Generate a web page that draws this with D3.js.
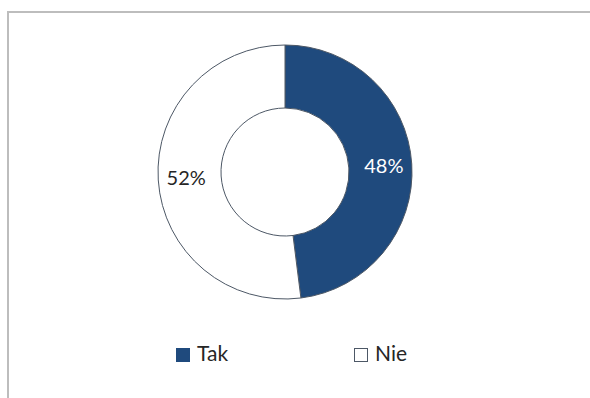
<!DOCTYPE html>
<html>
<head>
<meta charset="utf-8">
<script src="https://cdn.jsdelivr.net/npm/d3@7/dist/d3.min.js"></script>
<style>
  html, body { margin: 0; padding: 0; background: #fff; }
  svg { display: block; }
  text { font-family: Lato, "Open Sans", sans-serif; }
</style>
</head>
<body>
<svg id="chart" width="590" height="398"></svg>
<script>
// Survey answers and their shares (percent)
const categories = ["Tak", "Nie"];
const values = [48, 52];
const colors = ["#1f4a7d", "#ffffff"];
const labelColors = ["#ffffff", "#262626"];

const svg = d3.select("#chart");
const W = 590, H = 398;

// Frame of the chart area (left and top edges)
svg.append("path")
  .attr("d", `M8,${H} V12 H${W}`)
  .attr("fill", "none")
  .attr("stroke", "#bdbdbd")
  .attr("stroke-width", 2);

const cx = 285, cy = 172;
const outerR = 127, innerR = 64;
const labelR = 99;

const pie = d3.pie().sort(null).value(d => d.value);
const data = pie(categories.map((c, i) => ({ name: c, value: values[i], i })));

const arc = d3.arc().innerRadius(innerR).outerRadius(outerR);
const labelArc = d3.arc().innerRadius(labelR).outerRadius(labelR);

const g = svg.append("g").attr("transform", `translate(${cx},${cy})`);

g.selectAll("path.slice")
  .data(data)
  .join("path")
  .attr("class", "slice")
  .attr("d", arc)
  .attr("fill", d => colors[d.data.i])
  .attr("stroke", "#4d5866")
  .attr("stroke-width", 1);

g.selectAll("text.pct")
  .data(data)
  .join("text")
  .attr("class", "pct")
  .attr("transform", d => `translate(${labelArc.centroid(d)})`)
  .attr("text-anchor", "middle")
  .attr("dy", "0.36em")
  .attr("font-size", 20)
  .attr("fill", d => labelColors[d.data.i])
  .text(d => d.data.value + "%");

// Legend
const legendX = d3.scalePoint().domain(categories).range([176, 354]);
const lg = svg.selectAll("g.legend")
  .data(categories)
  .join("g")
  .attr("class", "legend")
  .attr("transform", c => `translate(${legendX(c)},348)`);

lg.append("rect")
  .attr("x", 0.5).attr("y", 0.5)
  .attr("width", 13).attr("height", 13)
  .attr("fill", (c, i) => colors[i])
  .attr("stroke", (c, i) => i === 0 ? colors[0] : "#4d5866")
  .attr("stroke-width", 1);

lg.append("text")
  .attr("x", 21)
  .attr("y", 13)
  .attr("font-size", 21)
  .attr("fill", "#262626")
  .text(c => c);
</script>
</body>
</html>
